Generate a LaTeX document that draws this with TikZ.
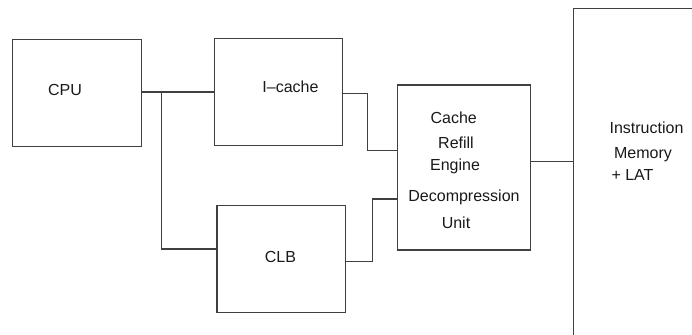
\documentclass[tikz,border=0pt]{standalone}
\usepackage{fontspec}
\setmainfont{Liberation Sans}
\begin{document}
\begin{tikzpicture}[x=0.5pt,y=-0.5pt]
		\tikzset{blk/.style={draw=black!75,line width=0.6pt,rectangle,inner sep=0pt},
			txt/.style={inner sep=0pt,font=\fontsize{8}{9.6}\selectfont,text=black!90},
			wire/.style={draw=black!75,line width=0.6pt}}
		\useasboundingbox (0,0) rectangle (692,335);
		\clip (0,0) rectangle (692,335);
		\node [blk,minimum width=64.5pt,minimum height=53.7pt] (cpu) at (77.2,93) {};
		\node [txt] (cpu-t) at (65,89.5) {CPU};
		\node [blk,minimum width=64.2pt,minimum height=53.5pt] (icache) at (278.5,91.8) {};
		\node [txt] (icache-t) at (290.5,87) {I–cache};
		\node [blk,minimum width=64.2pt,minimum height=53.5pt] (clb) at (281.2,258.8) {};
		\node [txt] (clb-t) at (280.5,256.5) {CLB};
		\node [blk,minimum width=66.5pt,minimum height=82.5pt] (cre) at (464.2,167.5) {};
		\node [txt] (cre-t1) at (453.7,118) {Cache};
		\node [txt] (cre-t2) at (456,142.5) {Refill};
		\node [txt] (cre-t3) at (455,166) {Engine};
		\node [txt] (cre-t4) at (464,197) {Decompression};
		\node [txt] (cre-t5) at (456,223) {Unit};
		\node [blk,minimum width=100pt,minimum height=200pt,anchor=north west] (mem) at (573,7.7) {};
		\node [txt] (mem-t1) at (646.5,128) {Instruction};
		\node [txt] (mem-t2) at (643,155) {Memory};
		\node [txt] (mem-t3) at (632.5,175.5) {+ LAT};
		\coordinate (br) at (161.7,92);
		\coordinate (clb-in) at (217,249);
		\coordinate (ic-out) at (342.7,93.3);
		\coordinate (cre-in1) at (397.9,150.7);
		\coordinate (clb-out) at (345.3,261.7);
		\coordinate (cre-in2) at (397.9,199);
		\coordinate (cre-out) at (530.5,161.3);
		\coordinate (mem-in) at (573,161.3);
		\draw [wire] (cpu.east |- br) -- (icache.west |- br);
		\draw [wire] (br) |- (clb-in);
		\draw [wire] (ic-out) -- (367.7,93.3) |- (cre-in1);
		\draw [wire] (clb-out) -- (372.3,261.7) |- (cre-in2);
		\draw [wire] (cre-out) -- (mem-in);
\end{tikzpicture}
\end{document}
